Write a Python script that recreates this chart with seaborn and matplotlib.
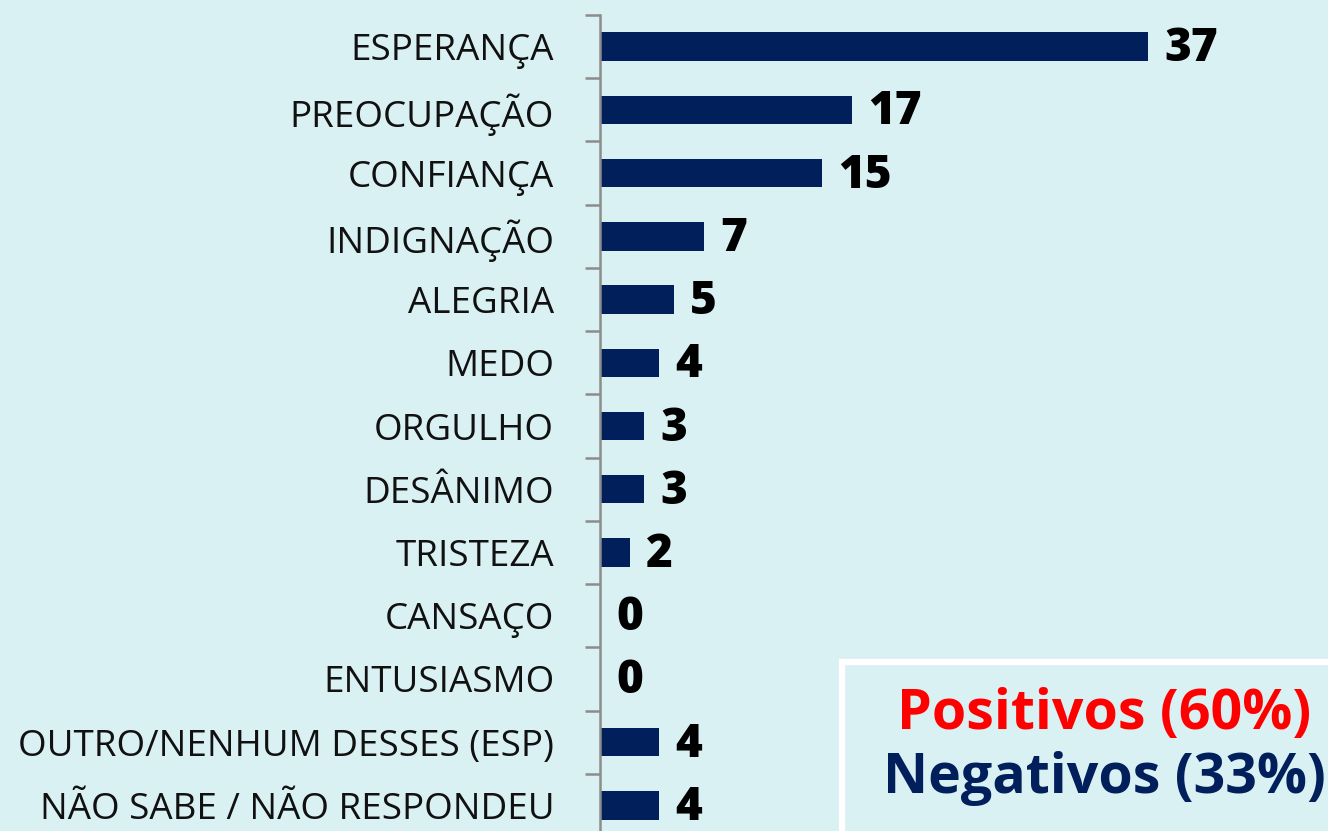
import matplotlib
matplotlib.use("Agg")
import matplotlib.pyplot as plt
import seaborn as sns
import pandas as pd
import numpy as np
from matplotlib.patches import Rectangle

# Data
categories = [
    "ESPERANÇA", "PREOCUPAÇÃO", "CONFIANÇA", "INDIGNAÇÃO", "ALEGRIA", "MEDO",
    "ORGULHO", "DESÂNIMO", "TRISTEZA", "CANSAÇO", "ENTUSIASMO",
    "OUTRO/NENHUM DESSES (ESP)", "NÃO SABE / NÃO RESPONDEU",
]
values = [37, 17, 15, 7, 5, 4, 3, 3, 2, 0, 0, 4, 4]
summary_pos = "Positivos (60%)"
summary_neg = "Negativos (33%)"

bg = "#daf1f4"
navy = "#001f5b"

sns.set_theme(style="white")
plt.rcParams["font.family"] = ["Open Sans", "DejaVu Sans"]

df = pd.DataFrame({"cat": categories, "val": values})

fig = plt.figure(figsize=(13.28, 8.31), dpi=100, facecolor=bg)
# axes: left at x=600px, top boundary at y=15px, 63.2px per category
ax = fig.add_axes([600 / 1328, 1 - 837 / 831, 620 / 1328, 822 / 831])
ax.set_facecolor(bg)

sns.barplot(data=df, y="cat", x="val", color=navy, width=0.45,
            saturation=1, linewidth=0, ax=ax, orient="h")

ax.set_xlim(0, 620 / 14.8)
ax.set_ylim(len(categories) - 0.5, -0.5)
ax.set_xlabel("")
ax.set_ylabel("")
ax.set_xticks([])

for s in ["top", "right", "bottom"]:
    ax.spines[s].set_visible(False)
ax.spines["left"].set_color("#8c8c8c")
ax.spines["left"].set_linewidth(1.8)

ax.set_yticks(np.arange(len(categories)))
ax.set_yticklabels(categories, fontsize=26.5, color="#111111")
ax.tick_params(axis="y", which="major", length=0, pad=33)
ax.set_yticks(np.arange(len(categories) + 1) - 0.5, minor=True)
ax.tick_params(axis="y", which="minor", length=11, width=1.8,
               color="#8c8c8c", left=True)

for i, v in enumerate(values):
    ax.text(v + 1.1, i + 0.04, str(v), va="center", ha="left",
            fontsize=33, fontweight=800, color="black")

# summary box
fig.patches.append(Rectangle((842 / 1328, -0.05), 0.5, (831 - 662) / 831 + 0.05,
                             transform=fig.transFigure, facecolor=bg,
                             edgecolor="white", linewidth=4.5, zorder=5))
fig.text(1104 / 1328, 1 - 715 / 831, summary_pos, color="#ff0000",
         fontsize=40, fontweight="bold", ha="center", va="center", zorder=6)
fig.text(1104 / 1328, 1 - 778 / 831, summary_neg, color=navy,
         fontsize=40, fontweight="bold", ha="center", va="center", zorder=6)

fig.savefig("out.png", dpi=100, facecolor=bg)
